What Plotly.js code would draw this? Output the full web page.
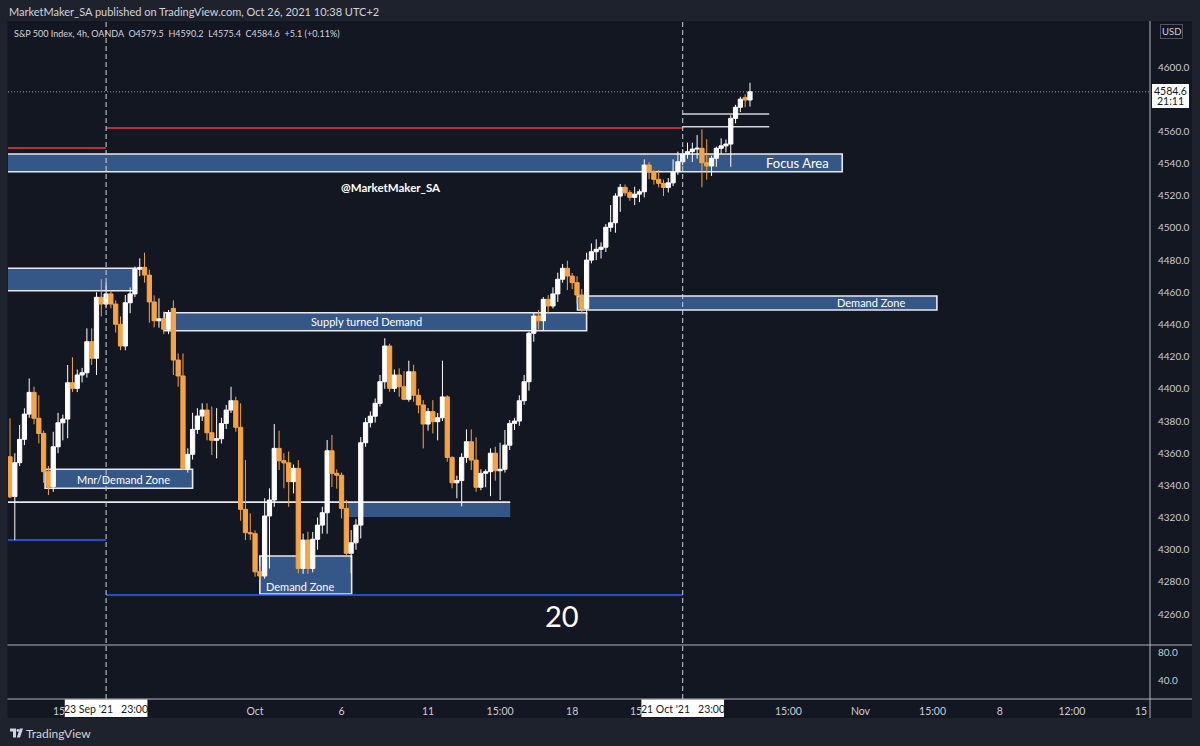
<!DOCTYPE html>
<html>
<head>
<meta charset="utf-8">
<script src="https://cdn.plot.ly/plotly-3.0.1.min.js"></script>
<style>
html,body{margin:0;padding:0;background:#1e222d;}
#chart{width:1200px;height:746px;}
</style>
</head>
<body>
<div id="chart"></div>
<script>
// ---------------- DATA ----------------
const openP = [4357.8,4333.0,4354.1,4368.6,4384.3,4397.8,4381.7,4372.3,4348.5,4339.2,
4364.0,4378.9,4381.2,4403.8,4400.3,4408.6,4410.0,4429.3,4419.0,4456.9,
4452.7,4459.0,4452.7,4440.1,4426.6,4453.5,4459.0,4474.3,4475.5,4470.7,
4454.0,4442.3,4443.5,4437.0,4450.0,4417.9,4408.0,4350.6,4359.3,4374.8,
4383.1,4386.8,4372.7,4368.0,4369.0,4378.5,4386.8,4392.6,4376.1,4325.1,
4310.6,4310.0,4286.3,4283.7,4321.0,4330.9,4363.0,4355.3,4354.0,4342.3,
4350.6,4288.4,4306.0,4288.4,4306.5,4315.3,4323.0,4361.5,4347.5,4346.3,
4325.7,4297.8,4304.3,4315.3,4366.5,4379.0,4383.0,4391.0,4404.4,4426.6,
4400.3,4408.6,4401.3,4393.5,4410.6,4396.0,4390.0,4378.1,4385.8,4379.6,
4382.0,4395.0,4357.4,4341.6,4343.0,4357.4,4367.1,4355.7,4338.8,4347.5,
4348.5,4360.0,4349.1,4350.0,4365.0,4378.5,4380.0,4392.6,4404.4,4434.5,
4445.2,4442.3,4455.6,4451.5,4459.0,4468.1,4474.9,4470.1,4466.0,4458.3,
4450.0,4480.0,4485.2,4486.7,4488.0,4500.4,4503.2,4519.8,4525.2,4521.9,
4519.0,4521.0,4522.5,4539.1,4534.9,4530.2,4527.7,4525.2,4528.0,4534.9,
4541.1,4545.9,4547.4,4549.0,4549.5,4540.5,4538.5,4543.3,4549.5,4551.0,
4552.1,4568.1,4575.0,4581.0,4579.5];
const highP = [4381.7,4360.0,4377.5,4387.9,4406.5,4401.3,4396.0,4374.0,4352.0,4373.3,
4385.1,4384.0,4414.8,4419.6,4412.0,4413.0,4437.6,4437.6,4460.0,4468.1,
4466.0,4461.0,4455.0,4445.0,4458.3,4463.0,4476.0,4481.1,4484.6,4474.0,
4458.0,4456.2,4448.0,4449.0,4455.0,4422.0,4422.0,4363.0,4385.1,4388.0,
4391.0,4391.0,4389.0,4388.0,4382.0,4390.0,4401.3,4395.0,4391.0,4355.7,
4322.6,4312.0,4290.0,4332.0,4338.2,4378.1,4374.0,4360.0,4361.0,4353.0,
4355.7,4310.0,4311.2,4311.0,4320.0,4326.7,4368.2,4371.3,4350.0,4348.0,
4330.9,4312.2,4319.0,4370.0,4382.0,4386.0,4394.0,4408.6,4431.4,4428.0,
4412.0,4412.7,4411.0,4417.5,4415.0,4400.0,4393.0,4388.0,4393.0,4385.0,
4417.5,4396.0,4358.0,4346.0,4360.0,4374.8,4374.8,4369.9,4350.0,4350.0,
4363.0,4364.0,4366.5,4374.4,4380.6,4382.0,4396.0,4408.6,4435.5,4447.0,
4449.0,4457.0,4458.3,4463.1,4472.2,4477.6,4479.6,4472.0,4470.0,4462.0,
4484.6,4490.4,4492.9,4491.0,4502.4,4514.2,4521.5,4527.3,4527.0,4523.5,
4525.6,4524.0,4542.6,4541.0,4536.0,4536.0,4530.0,4531.0,4542.6,4547.4,
4549.0,4553.0,4553.0,4557.7,4561.3,4555.0,4545.0,4550.5,4555.7,4555.0,
4570.0,4576.5,4581.5,4583.0,4590.2];
const lowP = [4332.0,4306.0,4352.0,4365.0,4382.0,4378.0,4366.0,4341.6,4334.0,4336.0,
4360.0,4368.0,4369.3,4398.0,4398.0,4404.0,4407.0,4414.8,4408.6,4445.0,
4450.0,4450.0,4435.0,4424.0,4424.0,4447.0,4457.0,4470.0,4466.0,4441.1,
4438.2,4438.0,4434.0,4434.0,4408.6,4401.3,4349.5,4348.0,4356.0,4372.0,
4380.0,4368.0,4358.9,4356.8,4366.0,4375.0,4385.0,4373.3,4318.0,4306.0,
4306.0,4283.3,4281.2,4282.0,4288.4,4326.7,4349.5,4338.2,4326.7,4335.0,
4285.3,4285.0,4285.0,4286.0,4300.0,4310.0,4310.0,4339.0,4338.0,4319.5,
4296.0,4285.3,4300.0,4307.0,4364.0,4376.0,4379.0,4389.0,4400.0,4398.2,
4398.0,4395.0,4393.0,4392.0,4392.0,4384.8,4363.0,4374.0,4372.3,4368.0,
4380.0,4354.7,4338.2,4332.0,4327.0,4354.0,4349.5,4336.0,4337.0,4338.8,
4333.3,4343.0,4330.9,4348.0,4362.0,4374.4,4377.0,4390.0,4398.9,4429.3,
4437.0,4436.0,4446.5,4450.0,4454.0,4466.0,4461.4,4462.0,4453.0,4447.0,
4446.0,4478.0,4480.0,4481.0,4485.0,4497.6,4497.0,4510.0,4520.0,4516.9,
4514.2,4516.0,4519.0,4530.2,4527.0,4525.2,4519.8,4522.0,4526.0,4533.0,
4539.0,4543.0,4541.0,4543.0,4525.2,4530.0,4532.3,4538.0,4546.0,4547.0,
4538.0,4565.0,4572.0,4575.0,4575.4];
const closeP = [4332.9,4354.1,4368.6,4384.3,4397.8,4381.7,4372.3,4348.5,4339.2,4364.0,
4378.9,4381.2,4403.8,4400.3,4408.6,4410.0,4429.3,4419.0,4456.9,4452.7,
4459.0,4452.7,4440.1,4426.6,4453.5,4459.0,4474.3,4475.5,4470.7,4454.0,
4442.3,4443.5,4437.0,4447.3,4417.9,4408.0,4350.6,4359.3,4374.8,4383.1,
4386.8,4372.7,4368.0,4369.0,4378.5,4386.8,4392.6,4376.1,4325.1,4310.6,
4310.0,4286.3,4283.7,4321.0,4330.9,4363.0,4355.3,4354.0,4342.3,4350.6,
4288.4,4306.0,4288.4,4306.5,4315.3,4323.0,4361.5,4347.5,4346.3,4325.7,
4297.8,4304.3,4315.3,4366.5,4379.0,4383.0,4391.0,4404.4,4426.6,4400.3,
4408.6,4401.3,4393.5,4410.6,4396.0,4390.0,4378.1,4385.8,4379.6,4382.0,
4395.0,4357.4,4341.6,4343.0,4357.4,4367.1,4355.7,4338.8,4347.5,4348.5,
4360.0,4349.1,4350.0,4365.0,4378.5,4380.0,4392.6,4404.4,4434.5,4445.2,
4442.3,4455.6,4451.5,4459.0,4468.1,4474.9,4470.1,4466.0,4458.3,4450.0,
4480.0,4485.2,4486.7,4488.0,4500.4,4503.2,4519.8,4525.2,4521.9,4519.0,
4521.0,4522.5,4539.1,4534.9,4530.2,4527.7,4525.2,4528.0,4534.9,4541.1,
4545.9,4547.4,4549.0,4549.5,4540.5,4538.5,4543.3,4549.5,4551.0,4552.1,
4568.1,4575.0,4580.0,4579.5,4584.6];
const barIndex = openP.map((_, i) => i);

// time-axis ticks (bar index positions) and labels ("15" = 15:00 labels cut off by the crosshair tags)
const timeTickPos = [10.2, 51, 69, 87, 102, 117, 130.3, 162, 177, 192, 206, 221, 235.4];
const timeTickText = ['15','Oct','6','11','15:00','18','15','15:00','Nov','15:00','8','12:00','15'];

// price-axis ticks (4580 is hidden behind the last-price tag)
const priceTicks = [4260,4280,4300,4320,4340,4360,4380,4400,4420,4440,4460,4480,4500,4520,4540,4560,4600];
const subTicks = [40, 80];

// drawn levels (price)
const focusArea = [4534.9, 4545.9];
const supplyTop = [4461.0, 4474.9];
const supplyTurnedDemand = [4436.1, 4447.3];
const demandZoneRight = [4449.0, 4457.7];
const mnrDemandZone = [4338.2, 4350.0];
const demandZoneLow = [4272.5, 4296.1];
const midBox = [4320.3, 4329.6];
const redLevels = [4549.7, 4562.1];
const blueLevels = [4306.0, 4271.8];
const whiteLevels = [4570.8, 4562.9];
const lastPrice = 4584.6;
const markerBars = [20, 140];
const markerLabels = ["23 Sep '21\u00a0\u00a0\u00a023:00", "21 Oct '21\u00a0\u00a0\u00a023:00"];

// ---------------- LAYOUT HELPERS ----------------
const PL = 8, PR = 1150, PT = 21, PB = 699;
const xp = px => (px - PL) / (PR - PL);
const yp = py => (PB - py) / (PB - PT);

const FONT = 'Lato, "Open Sans", sans-serif';
const TXT = '#d1d4dc';
const ZONE_FILL = '#345787';
const UP = '#ffffff', DOWN = '#f7a440';

const shapes = [];
// chart frame (dark)
shapes.push({type:'rect', xref:'paper', yref:'paper', x0:xp(7.5), x1:xp(1192), y0:yp(718), y1:yp(21),
  fillcolor:'#131722', line:{width:0}, layer:'below'});

function zone(x0, x1, lv, border) {
  shapes.push({type:'rect', xref:'x', yref:'y', x0:x0, x1:x1, y0:lv[0], y1:lv[1],
    fillcolor:ZONE_FILL, line:{color: border ? '#e8eaf0' : 'rgba(0,0,0,0)', width: border ? 1.6 : 0}, layer:'below'});
}
zone(-5, 173.2, focusArea, true);
zone(-5, 26.2, supplyTop, true);
zone(32.1, 120.0, supplyTurnedDemand, true);
zone(118.1, 192.9, demandZoneRight, true);
zone(7.3, 38.0, mnrDemandZone, true);
zone(52.0, 71.1, demandZoneLow, true);
zone(70.3, 104.1, midBox, false);

function hline(x0, x1, y, color, width, dash) {
  shapes.push({type:'line', xref:'x', yref:'y', x0:x0, x1:x1, y0:y, y1:y,
    line:{color:color, width:width, dash:dash || 'solid'}, layer:'below'});
}
hline(-5, 104.1, midBox[1], '#e8eaf0', 1.6);
hline(-5, markerBars[0], redLevels[0], '#f23645', 1.5);
hline(markerBars[0], markerBars[1], redLevels[1], '#f23645', 1.5);
hline(-5, markerBars[0], blueLevels[0], '#2962ff', 1.5);
hline(markerBars[0], markerBars[1], blueLevels[1], '#2962ff', 1.5);
hline(markerBars[1], 158.0, whiteLevels[0], '#d1d4dc', 1.5);
hline(markerBars[1], 158.0, whiteLevels[1], '#d1d4dc', 1.5);

// last price dotted line
shapes.push({type:'line', xref:'paper', yref:'y', x0:0, x1:1, y0:lastPrice, y1:lastPrice,
  line:{color:'#9598a1', width:1, dash:'1px,2px'}, layer:'below'});

// dashed vertical markers
markerBars.forEach(b => shapes.push({type:'line', xref:'x', yref:'paper', x0:b, x1:b, y0:0, y1:1,
  line:{color:'#d1d4dc', width:1, dash:'5px,3px'}, layer:'above'}));

// pane separators
shapes.push({type:'line', xref:'paper', yref:'paper', x0:xp(7.5), x1:xp(1192), y0:yp(645), y1:yp(645), line:{color:'#b2b5be', width:1}});
shapes.push({type:'line', xref:'paper', yref:'paper', x0:xp(7.5), x1:xp(1192), y0:0, y1:0, line:{color:'#b2b5be', width:1}});
shapes.push({type:'line', xref:'paper', yref:'paper', x0:1, x1:1, y0:yp(718), y1:yp(21), line:{color:'#b2b5be', width:1}});

// price tag
shapes.push({type:'rect', xref:'paper', yref:'paper', x0:xp(1152), x1:xp(1189), y0:yp(108), y1:yp(84),
  fillcolor:'#ffffff', line:{width:0}});
// time-axis tooltips
markerBars.forEach(b => shapes.push({type:'rect', xref:'x', yref:'paper', x0:b-8.6, x1:b+8.6, y0:yp(717), y1:yp(699.5),
  fillcolor:'#ffffff', line:{width:0}}));
// TradingView logo (simple glyph)
shapes.push({type:'path', xref:'paper', yref:'paper',
  path:`M ${xp(10)} ${yp(728.5)} L ${xp(16)} ${yp(728.5)} L ${xp(16)} ${yp(737.5)} L ${xp(13)} ${yp(737.5)} L ${xp(13)} ${yp(731.5)} L ${xp(10)} ${yp(731.5)} Z`,
  fillcolor:'#d1d4dc', line:{width:0}});
shapes.push({type:'circle', xref:'paper', yref:'paper', x0:xp(16.5), x1:xp(19.3), y0:yp(731.8), y1:yp(729),
  fillcolor:'#d1d4dc', line:{width:0}});
shapes.push({type:'path', xref:'paper', yref:'paper',
  path:`M ${xp(19.8)} ${yp(728.5)} L ${xp(23)} ${yp(728.5)} L ${xp(20)} ${yp(737.5)} L ${xp(16.8)} ${yp(737.5)} Z`,
  fillcolor:'#d1d4dc', line:{width:0}});

const ann = [];
function txt(x, y, text, size, color) {
  ann.push({x:x, y:y, text:text, showarrow:false, xref:'x', yref:'y', xanchor:'center', yanchor:'middle',
    font:{family:FONT, size:size, color:color}});
}
txt(74.1, 4441.7, 'Supply turned Demand', 11, '#ffffff');
txt(163.8, 4540.4, 'Focus Area', 13, '#ffffff');
txt(179.2, 4453.4, 'Demand Zone', 11, '#ffffff');
txt(23.7, 4343.5, 'Mnr/Demand Zone', 11, '#ffffff');
txt(60.4, 4277.4, 'Demand Zone', 11, '#ffffff');
txt(79.3, 4525.4, '<b>@MarketMaker_SA</b>', 11.5, '#ffffff');
txt(114.9, 4259.4, '20', 29, '#ffffff');

function ptxt(px, py, text, size, color, xanchor, extra) {
  ann.push(Object.assign({xref:'paper', yref:'paper', x:xp(px), y:yp(py), xanchor:xanchor || 'center', yanchor:'middle',
    showarrow:false, text:text, font:{family:FONT, size:size, color:color}}, extra || {}));
}
// header & legend
ptxt(7, 11.5, 'MarketMaker_SA published on TradingView.com, Oct 26, 2021 10:38 UTC+2', 11, TXT, 'left');
ptxt(12, 33.5, 'S&amp;P 500 Index, 4h, OANDA\u00a0\u00a0O4579.5\u00a0\u00a0H4590.2\u00a0\u00a0L4575.4\u00a0\u00a0C4584.6\u00a0\u00a0+5.1 (+0.11%)', 9, TXT, 'left');
// price-scale extras
ptxt(1171, 32, 'USD', 9.5, TXT, 'center', {bordercolor:'#50535e', borderwidth:1, borderpad:1});
ptxt(1170.5, 91, lastPrice.toFixed(1), 10.5, '#131722');
ptxt(1170.5, 101.5, '21:11', 10.5, '#131722');
markerBars.forEach((b, k) => ann.push({xref:'x', yref:'paper', x:b, y:yp(708.5), xanchor:'center', yanchor:'middle',
  showarrow:false, text:markerLabels[k], font:{family:FONT, size:10.5, color:'#131722'}}));
// footer
ptxt(24, 733, 'TradingView', 12, TXT, 'left');

const traces = [
  {type:'candlestick', x:barIndex, open:openP, high:highP, low:lowP, close:closeP,
   xaxis:'x', yaxis:'y', whiskerwidth:0, hoverinfo:'skip',
   increasing:{line:{color:UP, width:1}, fillcolor:UP},
   decreasing:{line:{color:DOWN, width:1}, fillcolor:DOWN}},
  {type:'scatter', x:[0], y:[50], xaxis:'x', yaxis:'y2', mode:'markers', marker:{opacity:0}, hoverinfo:'skip'}
];

const axisFont = {family:FONT, size:10.5, color:'#c9ccd4'};
const yFont = {family:FONT, size:10, color:'#c9ccd4'};
const layout = {
  width:1200, height:746,
  margin:{l:PL, r:1200-PR, t:PT, b:746-PB, pad:0},
  paper_bgcolor:'#1e222d', plot_bgcolor:'#131722',
  showlegend:false, hovermode:false, dragmode:false,
  boxgap:0.12, boxgroupgap:0,
  xaxis:{range:[-0.416, 237.25], anchor:'y2', tickvals:timeTickPos, ticktext:timeTickText,
    showgrid:false, zeroline:false, showline:false, ticks:'outside', ticklen:2, tickcolor:'rgba(0,0,0,0)',
    tickfont:axisFont, rangeslider:{visible:false}, fixedrange:true},
  yaxis:{domain:[yp(645), 1], range:[4240.8, 4628.6], side:'right', tickvals:priceTicks,
    ticktext:priceTicks.map(v => v.toFixed(1)), showgrid:false, zeroline:false, showline:false,
    ticks:'outside', ticklen:5, tickcolor:'rgba(0,0,0,0)', tickfont:yFont, fixedrange:true},
  yaxis2:{domain:[0, yp(645)], range:[12.2, 91.3], side:'right', tickvals:subTicks,
    ticktext:subTicks.map(v => v.toFixed(1)), showgrid:false, zeroline:false, showline:false,
    ticks:'outside', ticklen:5, tickcolor:'rgba(0,0,0,0)', tickfont:yFont, fixedrange:true},
  shapes:shapes, annotations:ann
};

Plotly.newPlot('chart', traces, layout, {displayModeBar:false, staticPlot:true});
</script>
</body>
</html>
